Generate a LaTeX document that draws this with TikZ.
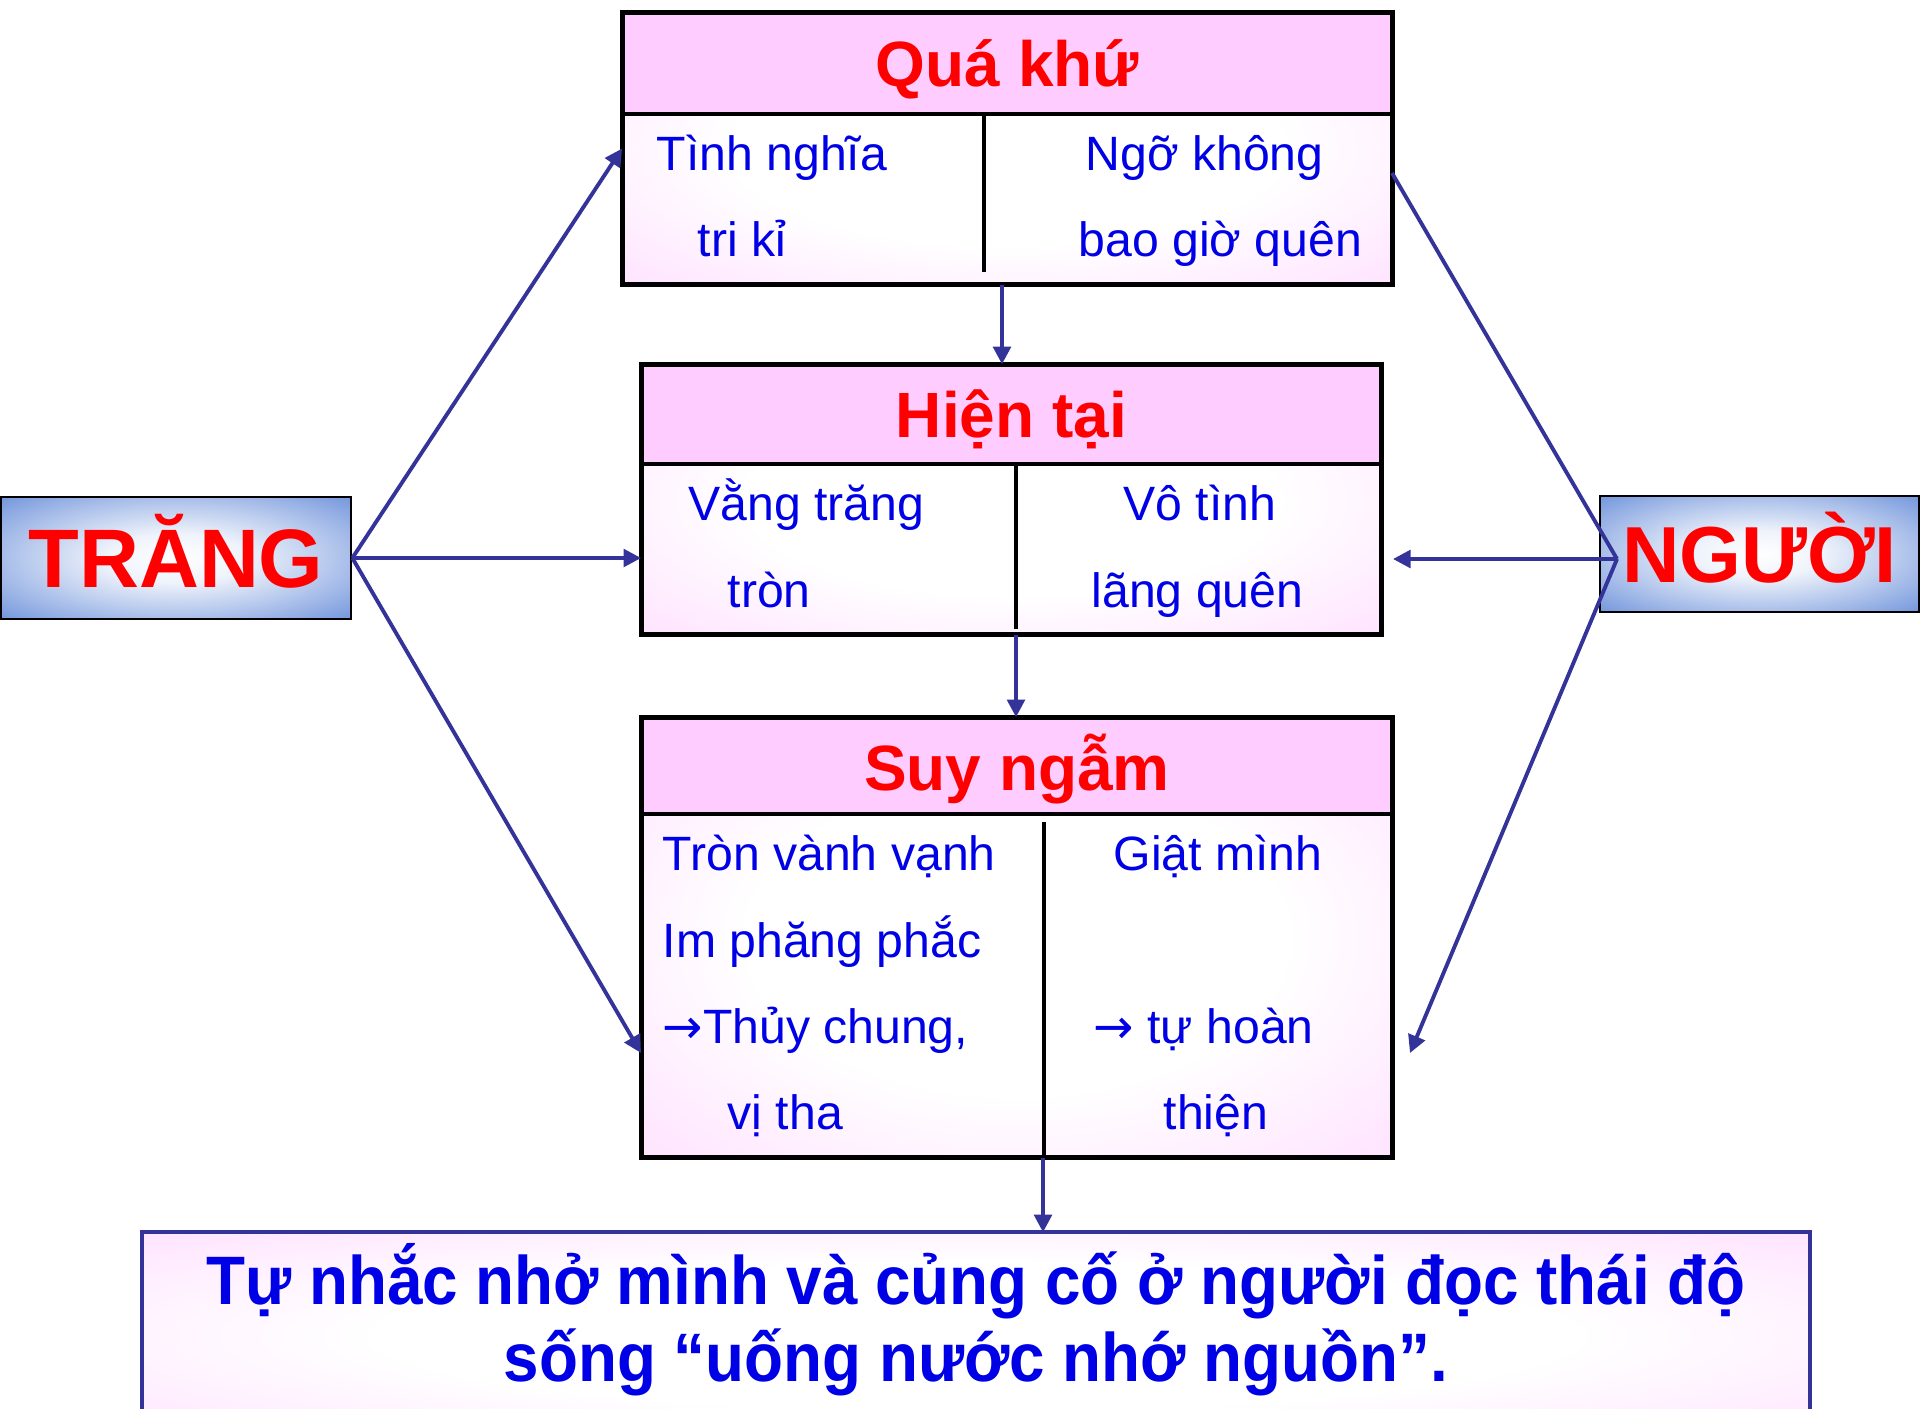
\documentclass[tikz,border=0pt]{standalone}
\usepackage{fontspec}
\setmainfont{Liberation Sans}
\newfontfamily\narrowsans[FakeStretch=0.93]{Liberation Sans}
\newfontfamily\arrowfont{DejaVu Sans}
\usetikzlibrary{positioning,arrows.meta,calc}
\definecolor{titlered}{RGB}{255,0,0}
\definecolor{textblue}{RGB}{0,0,230}
\definecolor{arrowblue}{RGB}{51,51,153}
\definecolor{boxpink}{RGB}{255,204,255}
\definecolor{tagblue}{RGB}{51,102,204}
\pgfdeclareradialshading{pinkglow}{\pgfpoint{0bp}{0bp}}{color(0bp)=(white); color(18bp)=(white); color(50bp)=(boxpink); color(75bp)=(boxpink)}
\pgfdeclareradialshading{tagglow}{\pgfpoint{0bp}{0bp}}{color(0bp)=(white); color(10bp)=(white!92!tagblue); color(28bp)=(tagblue!50!white); color(42bp)=(tagblue!85!white); color(50bp)=(tagblue); color(75bp)=(tagblue)}
\newcommand{\ra}{{\arrowfont →}}

\begin{document}
\begin{tikzpicture}[x=0.01cm, y=-0.01cm,
  tbl/.style={rectangle, shading=pinkglow, inner sep=0pt},
  sep/.style={line width=1.4pt, black},
  hd/.style={font=\bfseries\fontsize{18.2pt}{20pt}\selectfont, text=titlered},
  tx/.style={anchor=base west, inner sep=0pt, font=\fontsize{13.7pt}{16pt}\selectfont, text=textblue},
  tag/.style={rectangle, draw=black, line width=0.7pt, shading=tagglow, inner sep=0pt,
              text depth=0pt, text=titlered},
  ar/.style={-{Triangle[length=5pt, width=5pt]}, line width=1.1pt, arrowblue},
  ln/.style={line width=1.1pt, arrowblue}
]
\useasboundingbox (0,0) rectangle (1920,1408);
\clip (0,0) rectangle (1920,1408);

% the three tables and the closing box
\node[tbl, minimum width=7.69cm, minimum height=2.71cm] (qua)  at (1007.5,148.5) {};
\node[tbl, minimum width=7.39cm, minimum height=2.69cm] (hien) at (1011.5,499.5) {};
\node[tbl, minimum width=7.50cm, minimum height=4.39cm] (suy)  at (1017,937.5) {};
\node[tbl, minimum width=16.66cm, minimum height=2.07cm] (nho) at (976,1336.5) {};

\fill[boxpink] (623,13) rectangle (1392,114);
\fill[boxpink] (642,365) rectangle (1381,464);
\fill[boxpink] (642,718) rectangle (1392,814);

\draw[sep] (623,114) -- (1392,114) (984,114) -- (984,272);
\draw[sep] (642,464) -- (1381,464) (1016,464) -- (1016,629);
\draw[sep] (642,814) -- (1392,814) (1044,822) -- (1044,1157);
\foreach \b in {qua,hien,suy}
  \draw[sep] (\b.north west) rectangle (\b.south east);
\draw[line width=1.2pt, arrowblue] (nho.north west) rectangle (nho.south east);

\node[hd] (quat)  at (1007.5,69) {Quá khứ};
\node[hd] (hient) at (1011.5,419) {Hiện tại};
\node[hd] (suyt)  at (1017,769) {Suy ngẫm};

\node[tx] (q1) at (656,170)  {Tình nghĩa};
\node[tx] (q2) at (697,256)  {tri kỉ};
\node[tx] (q3) at (1085,170) {Ngỡ không};
\node[tx] (q4) at (1078,256) {bao giờ quên};

\node[tx] (h1) at (688,520)  {Vằng trăng};
\node[tx] (h2) at (727,607)  {tròn};
\node[tx] (h3) at (1123,520) {Vô tình};
\node[tx] (h4) at (1091,607) {lãng quên};

\node[tx] (s1) at (662,870)  {Tròn vành vạnh};
\node[tx] (s2) at (662,957)  {Im phăng phắc};
\node[tx] (s3) at (662,1043) {\ra Thủy chung,};
\node[tx] (s4) at (727,1129) {vị tha};
\node[tx] (s5) at (1113,870) {Giật mình};
\node[tx] (s6) at (1093,1043) {\ra{} tự hoàn};
\node[tx] (s7) at (1163,1129) {thiện};

\node[font=\narrowsans\bfseries\fontsize{19.5pt}{21.9pt}\selectfont, text=textblue, align=center]
  (nhot) at (976,1320) {Tự nhắc nhở mình và củng cố ở người đọc thái độ\\sống “uống nước nhớ nguồn”.};

\node[tag, font=\bfseries\fontsize{23.6pt}{26pt}\selectfont, text height=16.9pt,
      minimum width=3.50cm, minimum height=1.22cm] (trang) at (176,558) {TRĂNG};
\node[tag, font=\bfseries\fontsize{22.6pt}{26pt}\selectfont, text height=16.2pt,
      minimum width=3.19cm, minimum height=1.16cm] (nguoi) at (1759.5,554) {NGƯỜI};

% connectors
\coordinate (sL) at (641,1053);
\coordinate (nV) at (1617,559);
\coordinate (qR) at (1392,173);
\coordinate (hR) at (1393,559);
\coordinate (sR) at (1410,1053);

\draw[ar] (trang.east) -- (qua.west);
\draw[ar] (trang.east) -- (trang.east -| hien.west);
\draw[ar] (trang.east) -- (sL);
\draw[ln] (nV) -- (qR);
\foreach \e in {hR,sR}
  \draw[ar] (nV) -- (\e);

\coordinate (d1) at ([xshift=-0.055cm]qua.south);
\coordinate (d2) at ([xshift=0.045cm]hien.south);
\coordinate (d3) at ([xshift=0.26cm]suy.south);
\draw[ar] (d1) -- (d1 |- hien.north);
\draw[ar] (d2) -- (d2 |- suy.north);
\draw[ar] (d3) -- (d3 |- nho.north);

\end{tikzpicture}
\end{document}
